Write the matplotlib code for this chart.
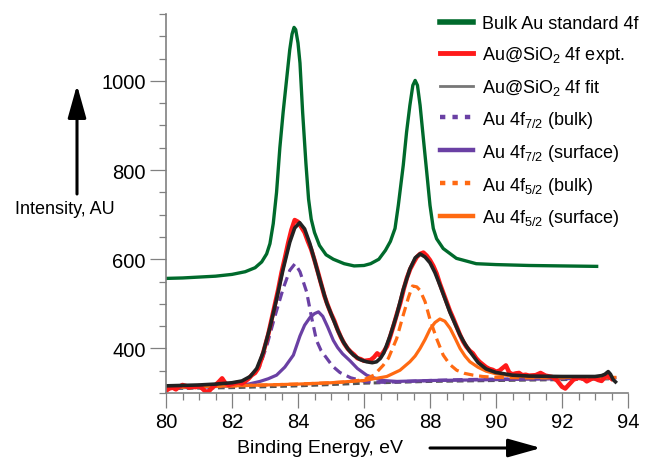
import matplotlib
matplotlib.use('Agg')
import matplotlib.pyplot as plt
from matplotlib.lines import Line2D
from matplotlib.ticker import MultipleLocator

plt.rcParams['font.family'] = ['Liberation Sans', 'DejaVu Sans']
plt.rcParams['mathtext.fontset'] = 'custom'
plt.rcParams['mathtext.rm'] = 'Liberation Sans'
plt.rcParams['mathtext.it'] = 'Liberation Sans:italic'

# bulk Au standard 4f
bulk_x = [80.0, 80.5, 81.0, 81.5, 82.0, 82.4, 82.7, 82.9, 83.05, 83.15, 83.25, 83.35, 83.45,
          83.55, 83.65, 83.75, 83.82, 83.88, 83.93, 84.0, 84.06, 84.14, 84.24, 84.32, 84.4,
          84.5, 84.65, 84.85, 85.07, 85.4, 85.7, 86.0, 86.2, 86.45, 86.65, 86.8, 86.94,
          87.04, 87.19, 87.29, 87.39, 87.48, 87.55, 87.62, 87.7, 87.8, 87.9, 88.0, 88.1,
          88.2, 88.4, 88.8, 89.4, 90.0, 91.0, 92.0, 93.05]
bulk_y = [557, 558, 560, 562, 566, 572, 581, 594, 612, 635, 680, 750, 850,
          930, 1000, 1070, 1105, 1120, 1115, 1085, 1040, 930, 815, 735, 690,
          660, 631, 610, 600, 590, 585, 586, 590, 600, 620, 640, 669,
          721, 811, 885, 945, 990, 1001, 990, 945, 870, 796, 721, 669,
          646, 624, 602, 590, 588, 586, 585, 584]

# Au@SiO2 experimental
expt_x = [80.0, 80.1, 80.2, 80.3, 80.4, 80.5, 80.6, 80.7, 80.8, 80.9, 81.0, 81.1, 81.2, 81.3,
          81.4, 81.5, 81.6, 81.7, 81.8, 81.9, 82.0, 82.1, 82.2, 82.3, 82.4, 82.5, 82.6, 82.7,
          82.8, 82.9, 83.0, 83.1, 83.2, 83.3, 83.4, 83.5, 83.6, 83.7, 83.8, 83.9, 84.0, 84.1,
          84.2, 84.3, 84.4, 84.5, 84.6, 84.7, 84.8, 84.9, 85.0, 85.1, 85.2, 85.3, 85.4, 85.5,
          85.6, 85.7, 85.8, 85.9, 86.0, 86.1, 86.2, 86.3, 86.4, 86.5, 86.6, 86.7, 86.8, 86.9,
          87.0, 87.1, 87.2, 87.3, 87.4, 87.5, 87.6, 87.7, 87.8, 87.9, 88.0, 88.1, 88.2, 88.3,
          88.4, 88.5, 88.6, 88.7, 88.8, 88.9, 89.0, 89.1, 89.2, 89.3, 89.4, 89.5, 89.6, 89.7,
          89.8, 89.9, 90.0, 90.1, 90.2, 90.3, 90.4, 90.5, 90.6, 90.7, 90.8, 90.9, 91.0, 91.2,
          91.35, 91.5, 91.7, 91.85, 92.0, 92.1, 92.2, 92.35, 92.5, 92.65, 92.75, 92.85, 92.95,
          93.1, 93.2, 93.35, 93.5]
expt_y = [305, 310, 312, 308, 314, 318, 316, 312, 314, 313, 316, 310, 303, 304,
          312, 318, 325, 333, 322, 318, 320, 322, 324, 321, 326, 332, 340, 345,
          356, 378, 405, 432, 465, 497, 532, 570, 602, 636, 666, 688, 684, 672,
          660, 640, 622, 598, 572, 545, 518, 497, 478, 462, 442, 425, 411, 400,
          392, 386, 378, 376, 372, 373, 374, 380, 389, 383, 393, 405, 428, 452,
          478, 502, 532, 558, 578, 592, 605, 612, 615, 608, 598, 585, 568, 545,
          525, 505, 485, 468, 450, 432, 416, 404, 395, 389, 378, 370, 364, 358,
          354, 352, 348, 350, 356, 362, 346, 342, 344, 345, 340, 341, 339, 340,
          345, 339, 336, 328, 314, 310, 318, 330, 334, 332, 326, 330, 334,
          329, 327, 340, 332]

# Au@SiO2 fit envelope
fit_x = [80.0, 80.5, 81.0, 81.5, 82.0, 82.3, 82.55, 82.75, 82.95, 83.15, 83.35, 83.55, 83.75,
         83.9, 84.05, 84.2, 84.36, 84.5, 84.67, 84.87, 85.07, 85.22, 85.37, 85.52, 85.68,
         85.88, 86.08, 86.25, 86.38, 86.5, 86.6, 86.79, 86.99, 87.19, 87.39, 87.55, 87.7,
         87.85, 88.0, 88.15, 88.3, 88.45, 88.61, 88.76, 88.91, 89.06, 89.21, 89.46, 89.7,
         90.0, 90.5, 91.0, 92.0, 93.0, 93.2, 93.3, 93.4, 93.47, 93.55, 93.62]
fit_y = [316, 317, 318, 320, 323, 327, 337, 355, 392, 447, 510, 578, 638,
         670, 682, 668, 635, 598, 552, 502, 465, 438, 415, 398, 385,
         375, 370, 368, 370, 378, 390, 428, 475, 532, 578, 603, 612,
         605, 592, 570, 542, 512, 480, 455, 430, 410, 393, 368, 354,
         346, 340, 338, 337, 337, 339, 342, 348, 342, 330, 325]

# background
bg_x = [80.0, 81.0, 82.0, 83.0, 84.0, 85.0, 86.0, 87.0, 88.0, 89.0, 90.0, 91.0, 92.0, 93.6]
bg_y = [310, 311, 312, 314, 316, 319, 322, 324, 326, 327, 328, 329, 330, 332]

# Au 4f7/2 bulk
f72b_x = [80.0, 81.0, 81.5, 82.0, 82.3, 82.5, 82.64, 82.85, 83.05, 83.3, 83.55, 83.75, 83.91,
          84.06, 84.26, 84.41, 84.56, 84.7, 84.82, 85.05, 85.27, 85.6, 86.08, 86.6, 87.0,
          88.0, 89.0, 90.0, 91.0, 92.0, 93.6]
f72b_y = [311, 313, 315, 319, 325, 333, 342, 362, 405, 472, 534, 575, 590,
          572, 527, 470, 418, 395, 383, 360, 346, 334, 325, 324, 325,
          328, 330, 331, 332, 333, 334]

# Au 4f7/2 surface
f72s_x = [80.0, 81.0, 82.0, 82.5, 82.85, 83.1, 83.35, 83.6, 83.86, 84.06, 84.2, 84.36, 84.5,
          84.62, 84.75, 84.9, 85.07, 85.2, 85.35, 85.58, 85.8, 86.08, 86.3, 86.58, 87.0,
          88.0, 89.0, 90.0, 91.0, 92.0, 93.6]
f72s_y = [312, 313, 316, 320, 326, 332, 340, 358, 385, 428, 452, 469, 478,
          482, 472, 448, 418, 402, 388, 372, 355, 340, 334, 328, 326,
          328, 329, 330, 331, 332, 334]

# Au 4f5/2 bulk
f52b_x = [80.0, 82.0, 84.0, 85.0, 85.5, 86.0, 86.3, 86.58, 86.74, 86.99, 87.19, 87.35, 87.47,
          87.6, 87.7, 87.85, 88.0, 88.2, 88.4, 88.6, 88.81, 89.05, 89.31, 89.6, 90.0,
          91.0, 92.0, 93.6]
f52b_y = [312, 316, 320, 323, 325, 330, 340, 362, 378, 422, 475, 515, 540,
          538, 530, 505, 465, 422, 385, 364, 351, 344, 340, 337, 335,
          334, 334, 334]

# Au 4f5/2 surface
f52s_x = [80.0, 82.0, 84.0, 85.0, 86.0, 86.69, 87.09, 87.39, 87.55, 87.7, 87.85, 88.0, 88.15,
          88.3, 88.45, 88.61, 88.76, 88.91, 89.06, 89.21, 89.45, 89.7, 90.0, 90.5, 91.0,
          92.0, 93.6]
f52s_y = [313, 316, 320, 323, 328, 337, 351, 370, 383, 400, 420, 443, 458,
          466, 461, 445, 423, 400, 383, 370, 358, 349, 343, 338, 336,
          335, 335]

green = '#006a2c'
red = '#ff1a1a'
purple = '#6a40a4'
orange = '#ff6a12'

fig = plt.figure(figsize=(6.45, 4.6), dpi=100)
ax = fig.add_axes([166 / 645, 1 - 394 / 460, (628 - 166) / 645, (394 - 15) / 460])

ax.plot(bg_x, bg_y, color='#555555', lw=2.2, dashes=(2.2, 1.2))
ax.plot(f72b_x, f72b_y, color=purple, lw=2.3, dashes=(3, 1.8))
ax.plot(f72s_x, f72s_y, color=purple, lw=2.3)
ax.plot(f52b_x, f52b_y, color=orange, lw=2.3, dashes=(3, 1.8))
ax.plot(f52s_x, f52s_y, color=orange, lw=2.3)
ax.plot(expt_x, expt_y, color=red, lw=3.2)
ax.plot(fit_x, fit_y, color='#222222', lw=2.6)
ax.plot(bulk_x, bulk_y, color=green, lw=2.4)

ax.set_xlim(80, 94)
ax.set_ylim(300, 1150)
ax.xaxis.set_major_locator(MultipleLocator(2))
ax.xaxis.set_minor_locator(MultipleLocator(0.5))
ax.set_yticks([400, 600, 800, 1000])
ax.yaxis.set_minor_locator(MultipleLocator(50))

for s in ['top', 'right']:
    ax.spines[s].set_visible(False)
for s in ['left', 'bottom']:
    ax.spines[s].set_color('#808080')
    ax.spines[s].set_linewidth(1.2)
ax.tick_params(which='both', direction='out', color='#808080', width=0.9, labelsize=14.5, pad=3)
ax.tick_params(axis='y', which='major', length=11.5)
ax.tick_params(axis='x', which='major', length=10.5)
ax.tick_params(which='minor', length=5.2)

# legend
handles = [
    Line2D([], [], color=green, lw=4),
    Line2D([], [], color=red, lw=3.5),
    Line2D([], [], color='#777777', lw=2),
    Line2D([], [], color=purple, lw=3.2, dashes=(1.2, 1.6)),
    Line2D([], [], color=purple, lw=3.2),
    Line2D([], [], color=orange, lw=3.2, dashes=(1.2, 1.6)),
    Line2D([], [], color=orange, lw=3.2),
]
labels = [
    'Bulk Au standard 4f',
    r'Au@SiO$_\mathregular{2}$ 4f expt.',
    r'Au@SiO$_\mathregular{2}$ 4f fit',
    r'Au 4f$_\mathregular{7/2}$ (bulk)',
    r'Au 4f$_\mathregular{7/2}$ (surface)',
    r'Au 4f$_\mathregular{5/2}$ (bulk)',
    r'Au 4f$_\mathregular{5/2}$ (surface)',
]
fig.legend(handles, labels, loc='upper left', bbox_to_anchor=(440 / 645, 1 - 16 / 460),
           frameon=False, fontsize=13, borderpad=0, borderaxespad=0,
           handlelength=1.85, handletextpad=0.45, labelspacing=0.66)

# axis labels with arrows
fig.text(65 / 645, 1 - 210 / 460, 'Intensity, AU', fontsize=13, ha='center', va='center')
fig.text(320 / 645, 1 - 449 / 460, 'Binding Energy, eV', fontsize=14, ha='center', va='center')

arrow = dict(arrowstyle='-|>,head_length=1.0,head_width=0.28', lw=2.2, color='black',
             mutation_scale=20, shrinkA=0, shrinkB=0)
ax.annotate('', xy=(77 / 645, 1 - 86 / 460), xytext=(77 / 645, 1 - 195 / 460),
            xycoords='figure fraction', textcoords='figure fraction', arrowprops=arrow)
ax.annotate('', xy=(541 / 645, 1 - 449 / 460), xytext=(430 / 645, 1 - 449 / 460),
            xycoords='figure fraction', textcoords='figure fraction', arrowprops=arrow)

fig.savefig('out.png', dpi=100)
